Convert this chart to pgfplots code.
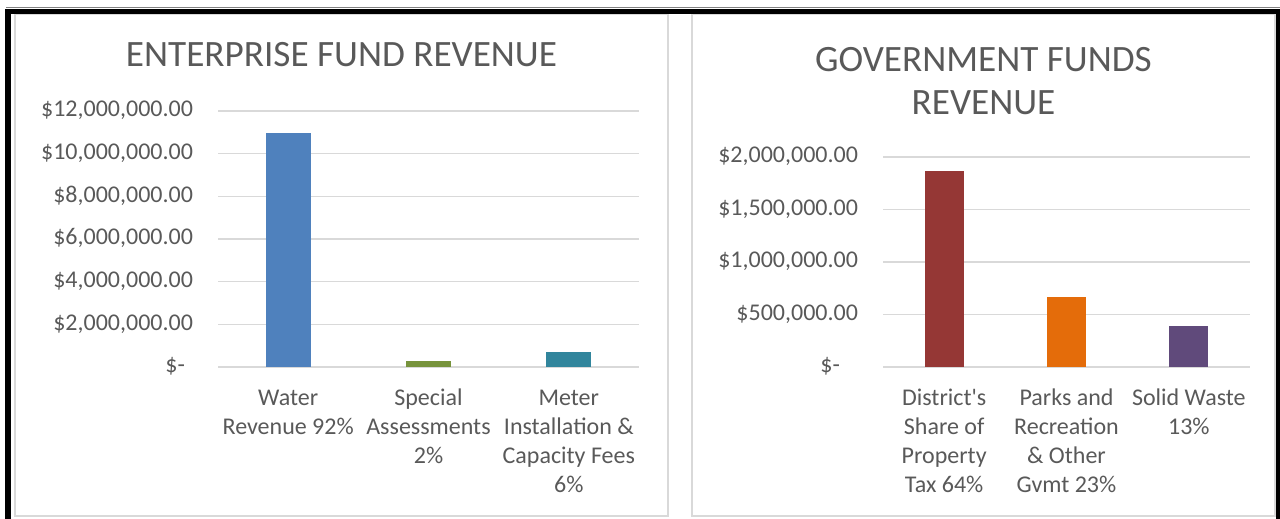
\documentclass[border=0pt]{standalone}
\usepackage{pgfplots}
\pgfplotsset{compat=1.18}
\usepackage{fontspec}
\setmainfont{Carlito}

\definecolor{txt}{HTML}{595959}
\definecolor{gridc}{HTML}{D9D9D9}
\definecolor{water}{HTML}{4F81BD}
\definecolor{special}{HTML}{77933C}
\definecolor{meter}{HTML}{31859C}
\definecolor{district}{HTML}{953735}
\definecolor{parks}{HTML}{E46C0A}
\definecolor{solid}{HTML}{604A7B}

\pgfplotsset{revbar/.style={
    scale only axis, ybar, bar width=0.32,
    xmin=-0.5, xmax=2.5, ymin=0,
    axis line style={draw=none}, major tick length=0pt,
    scaled y ticks=false,
    ymajorgrids, major grid style={color=gridc, line width=0.75pt},
    xtick={0,1,2},
    typeset ticklabels with strut,
    tick label style={font=\fontsize{12}{14.5}\selectfont, text=txt},
    xticklabel style={align=center, anchor=north, yshift=-5.5pt},
    yticklabel style={anchor=east, xshift=-9pt},
    clip=false,
}}

\begin{document}
\begin{tikzpicture}
\useasboundingbox (0,0) rectangle (640pt,-259.5pt);

% panel frames
\draw[gridc, line width=0.75pt] (7.5pt,-7pt) rectangle (334pt,-258pt);
\draw[gridc, line width=0.75pt] (346pt,-7pt) rectangle (637.5pt,-258pt);
\draw[black!50, line width=0.5pt] (3pt,-4pt) -- (640pt,-4pt);
\draw[black, line width=2.75pt] (4pt,-262pt) -- (4pt,-5.75pt) -- (639.2pt,-5.75pt) -- (639.2pt,-262pt);

% titles
\node[anchor=base, text=txt, font=\fontsize{18.6}{21.5}\selectfont] at (170.75pt,-33.5pt) {ENTERPRISE FUND REVENUE};
\node[anchor=base, text=txt, align=center, font=\fontsize{18.6}{21.5}\selectfont] at (491.75pt,-57.5pt) {GOVERNMENT FUNDS\\REVENUE};

% enterprise fund
\begin{axis}[revbar,
    at={(109pt,-183.5pt)}, anchor=south west,
    width=210.5pt, height=128pt,
    ymax=12000000,
    ytick={0,2000000,4000000,6000000,8000000,10000000,12000000},
    yticklabels={\$-\rule{4pt}{0pt}, {\$2,000,000.00}, {\$4,000,000.00}, {\$6,000,000.00}, {\$8,000,000.00}, {\$10,000,000.00}, {\$12,000,000.00}},
    xticklabels={{Water\\Revenue 92\%}, {Special\\Assessments\\2\%}, {Meter\\Installation \&\\Capacity Fees\\6\%}},
]
\addplot[fill=water, draw=none, bar shift=0pt] coordinates {(0,10950000)};
\addplot[fill=special, draw=none, bar shift=0pt] coordinates {(1,280000)};
\addplot[fill=meter, draw=none, bar shift=0pt] coordinates {(2,700000)};
\end{axis}

% government funds
\begin{axis}[revbar,
    at={(441.5pt,-183.5pt)}, anchor=south west,
    width=183.5pt, height=105pt,
    ymax=2000000,
    ytick={0,500000,1000000,1500000,2000000},
    yticklabels={\$-\rule{9pt}{0pt}, {\$500,000.00}, {\$1,000,000.00}, {\$1,500,000.00}, {\$2,000,000.00}},
    xticklabels={{District\textquotesingle s\\Share of\\Property\\Tax 64\%}, {Parks and\\Recreation\\\& Other\\Gvmt 23\%}, {Solid Waste\\13\%}},
]
\addplot[fill=district, draw=none, bar shift=0pt] coordinates {(0,1870000)};
\addplot[fill=parks, draw=none, bar shift=0pt] coordinates {(1,665000)};
\addplot[fill=solid, draw=none, bar shift=0pt] coordinates {(2,388000)};
\end{axis}
\end{tikzpicture}
\end{document}
